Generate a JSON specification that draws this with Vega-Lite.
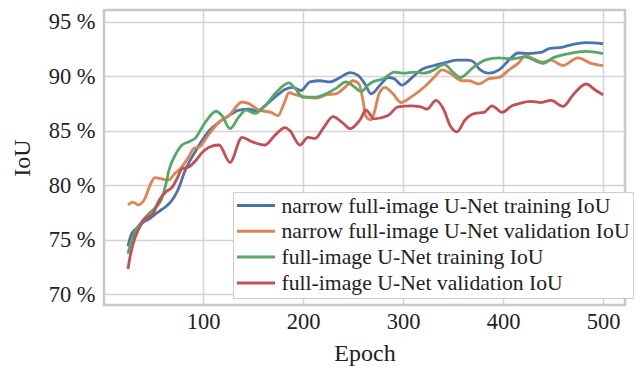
{
  "$schema": "https://vega.github.io/schema/vega-lite/v6.json",
  "width": 521,
  "height": 295,
  "autosize": {"type": "none"},
  "padding": {"left": 104, "top": 10, "right": 9, "bottom": 62},
  "background": "white",
  "config": {
    "font": "Liberation Serif, Times New Roman, serif",
    "view": {"stroke": "#c8c8c8", "strokeWidth": 2.5},
    "axis": {
      "labelFont": "Liberation Serif, Times New Roman, serif",
      "titleFont": "Liberation Serif, Times New Roman, serif",
      "labelFontSize": 22.5,
      "titleFontSize": 24,
      "titleFontWeight": "normal",
      "labelColor": "#222222",
      "titleColor": "#222222",
      "gridColor": "#d4d4d4",
      "gridWidth": 1.5,
      "domain": false,
      "ticks": false
    },
    "legend": {
      "labelFont": "Liberation Serif, Times New Roman, serif",
      "labelFontSize": 21.7,
      "labelColor": "#222222",
      "labelLimit": 0
    }
  },
  "data": {
    "values": [
      {"s": "narrow full-image U-Net training IoU", "e": 25, "v": 74.4},
      {"s": "narrow full-image U-Net training IoU", "e": 28, "v": 75.4},
      {"s": "narrow full-image U-Net training IoU", "e": 33, "v": 76.0},
      {"s": "narrow full-image U-Net training IoU", "e": 40, "v": 76.6},
      {"s": "narrow full-image U-Net training IoU", "e": 46, "v": 76.9},
      {"s": "narrow full-image U-Net training IoU", "e": 53, "v": 77.4},
      {"s": "narrow full-image U-Net training IoU", "e": 60, "v": 77.85},
      {"s": "narrow full-image U-Net training IoU", "e": 66, "v": 78.3},
      {"s": "narrow full-image U-Net training IoU", "e": 71, "v": 78.9},
      {"s": "narrow full-image U-Net training IoU", "e": 76, "v": 79.8},
      {"s": "narrow full-image U-Net training IoU", "e": 81, "v": 81.1},
      {"s": "narrow full-image U-Net training IoU", "e": 86, "v": 82.1},
      {"s": "narrow full-image U-Net training IoU", "e": 93, "v": 83.2},
      {"s": "narrow full-image U-Net training IoU", "e": 99, "v": 84.1},
      {"s": "narrow full-image U-Net training IoU", "e": 106, "v": 85.0},
      {"s": "narrow full-image U-Net training IoU", "e": 116, "v": 85.8},
      {"s": "narrow full-image U-Net training IoU", "e": 126, "v": 86.4},
      {"s": "narrow full-image U-Net training IoU", "e": 136, "v": 86.9},
      {"s": "narrow full-image U-Net training IoU", "e": 146, "v": 87.0},
      {"s": "narrow full-image U-Net training IoU", "e": 154, "v": 86.8},
      {"s": "narrow full-image U-Net training IoU", "e": 162, "v": 87.3},
      {"s": "narrow full-image U-Net training IoU", "e": 172, "v": 88.1},
      {"s": "narrow full-image U-Net training IoU", "e": 182, "v": 88.8},
      {"s": "narrow full-image U-Net training IoU", "e": 190, "v": 89.0},
      {"s": "narrow full-image U-Net training IoU", "e": 198, "v": 88.7},
      {"s": "narrow full-image U-Net training IoU", "e": 207, "v": 89.5},
      {"s": "narrow full-image U-Net training IoU", "e": 217, "v": 89.6},
      {"s": "narrow full-image U-Net training IoU", "e": 227, "v": 89.5},
      {"s": "narrow full-image U-Net training IoU", "e": 237, "v": 89.9},
      {"s": "narrow full-image U-Net training IoU", "e": 247, "v": 90.35},
      {"s": "narrow full-image U-Net training IoU", "e": 255, "v": 90.1},
      {"s": "narrow full-image U-Net training IoU", "e": 262, "v": 89.3},
      {"s": "narrow full-image U-Net training IoU", "e": 268, "v": 88.4},
      {"s": "narrow full-image U-Net training IoU", "e": 278, "v": 89.3},
      {"s": "narrow full-image U-Net training IoU", "e": 285, "v": 89.9},
      {"s": "narrow full-image U-Net training IoU", "e": 291, "v": 89.8},
      {"s": "narrow full-image U-Net training IoU", "e": 299, "v": 89.2},
      {"s": "narrow full-image U-Net training IoU", "e": 308, "v": 89.8},
      {"s": "narrow full-image U-Net training IoU", "e": 318, "v": 90.6},
      {"s": "narrow full-image U-Net training IoU", "e": 331, "v": 91.0},
      {"s": "narrow full-image U-Net training IoU", "e": 344, "v": 91.3},
      {"s": "narrow full-image U-Net training IoU", "e": 354, "v": 91.5},
      {"s": "narrow full-image U-Net training IoU", "e": 366, "v": 91.5},
      {"s": "narrow full-image U-Net training IoU", "e": 371, "v": 91.3},
      {"s": "narrow full-image U-Net training IoU", "e": 376, "v": 90.7},
      {"s": "narrow full-image U-Net training IoU", "e": 386, "v": 90.3},
      {"s": "narrow full-image U-Net training IoU", "e": 396, "v": 90.6},
      {"s": "narrow full-image U-Net training IoU", "e": 407, "v": 91.6},
      {"s": "narrow full-image U-Net training IoU", "e": 415, "v": 92.15},
      {"s": "narrow full-image U-Net training IoU", "e": 425, "v": 92.1},
      {"s": "narrow full-image U-Net training IoU", "e": 438, "v": 92.2},
      {"s": "narrow full-image U-Net training IoU", "e": 446, "v": 92.55},
      {"s": "narrow full-image U-Net training IoU", "e": 460, "v": 92.7},
      {"s": "narrow full-image U-Net training IoU", "e": 466, "v": 92.85},
      {"s": "narrow full-image U-Net training IoU", "e": 483, "v": 93.1},
      {"s": "narrow full-image U-Net training IoU", "e": 500, "v": 93.0},

      {"s": "narrow full-image U-Net validation IoU", "e": 25, "v": 78.2},
      {"s": "narrow full-image U-Net validation IoU", "e": 30, "v": 78.45},
      {"s": "narrow full-image U-Net validation IoU", "e": 35, "v": 78.2},
      {"s": "narrow full-image U-Net validation IoU", "e": 42, "v": 78.8},
      {"s": "narrow full-image U-Net validation IoU", "e": 47, "v": 80.0},
      {"s": "narrow full-image U-Net validation IoU", "e": 52, "v": 80.7},
      {"s": "narrow full-image U-Net validation IoU", "e": 58, "v": 80.6},
      {"s": "narrow full-image U-Net validation IoU", "e": 65, "v": 80.45},
      {"s": "narrow full-image U-Net validation IoU", "e": 72, "v": 81.1},
      {"s": "narrow full-image U-Net validation IoU", "e": 78, "v": 81.6},
      {"s": "narrow full-image U-Net validation IoU", "e": 85, "v": 82.5},
      {"s": "narrow full-image U-Net validation IoU", "e": 91, "v": 83.4},
      {"s": "narrow full-image U-Net validation IoU", "e": 96, "v": 83.5},
      {"s": "narrow full-image U-Net validation IoU", "e": 106, "v": 84.7},
      {"s": "narrow full-image U-Net validation IoU", "e": 116, "v": 85.8},
      {"s": "narrow full-image U-Net validation IoU", "e": 126, "v": 86.4},
      {"s": "narrow full-image U-Net validation IoU", "e": 139, "v": 87.65},
      {"s": "narrow full-image U-Net validation IoU", "e": 146, "v": 87.5},
      {"s": "narrow full-image U-Net validation IoU", "e": 156, "v": 86.9},
      {"s": "narrow full-image U-Net validation IoU", "e": 168, "v": 86.7},
      {"s": "narrow full-image U-Net validation IoU", "e": 175, "v": 86.4},
      {"s": "narrow full-image U-Net validation IoU", "e": 181, "v": 87.5},
      {"s": "narrow full-image U-Net validation IoU", "e": 186, "v": 88.5},
      {"s": "narrow full-image U-Net validation IoU", "e": 193, "v": 88.3},
      {"s": "narrow full-image U-Net validation IoU", "e": 203, "v": 88.1},
      {"s": "narrow full-image U-Net validation IoU", "e": 213, "v": 88.0},
      {"s": "narrow full-image U-Net validation IoU", "e": 223, "v": 88.3},
      {"s": "narrow full-image U-Net validation IoU", "e": 233, "v": 88.4},
      {"s": "narrow full-image U-Net validation IoU", "e": 242, "v": 89.0},
      {"s": "narrow full-image U-Net validation IoU", "e": 250, "v": 89.6},
      {"s": "narrow full-image U-Net validation IoU", "e": 256, "v": 89.3},
      {"s": "narrow full-image U-Net validation IoU", "e": 260, "v": 87.8},
      {"s": "narrow full-image U-Net validation IoU", "e": 263, "v": 86.3},
      {"s": "narrow full-image U-Net validation IoU", "e": 268, "v": 86.0},
      {"s": "narrow full-image U-Net validation IoU", "e": 271, "v": 86.6},
      {"s": "narrow full-image U-Net validation IoU", "e": 276, "v": 88.4},
      {"s": "narrow full-image U-Net validation IoU", "e": 282, "v": 89.0},
      {"s": "narrow full-image U-Net validation IoU", "e": 290, "v": 88.4},
      {"s": "narrow full-image U-Net validation IoU", "e": 298, "v": 87.6},
      {"s": "narrow full-image U-Net validation IoU", "e": 308, "v": 88.1},
      {"s": "narrow full-image U-Net validation IoU", "e": 321, "v": 89.0},
      {"s": "narrow full-image U-Net validation IoU", "e": 331, "v": 89.9},
      {"s": "narrow full-image U-Net validation IoU", "e": 339, "v": 90.6},
      {"s": "narrow full-image U-Net validation IoU", "e": 347, "v": 90.3},
      {"s": "narrow full-image U-Net validation IoU", "e": 354, "v": 89.8},
      {"s": "narrow full-image U-Net validation IoU", "e": 359, "v": 89.6},
      {"s": "narrow full-image U-Net validation IoU", "e": 366, "v": 89.6},
      {"s": "narrow full-image U-Net validation IoU", "e": 376, "v": 89.3},
      {"s": "narrow full-image U-Net validation IoU", "e": 386, "v": 89.8},
      {"s": "narrow full-image U-Net validation IoU", "e": 396, "v": 89.9},
      {"s": "narrow full-image U-Net validation IoU", "e": 406, "v": 90.6},
      {"s": "narrow full-image U-Net validation IoU", "e": 415, "v": 91.2},
      {"s": "narrow full-image U-Net validation IoU", "e": 423, "v": 91.9},
      {"s": "narrow full-image U-Net validation IoU", "e": 431, "v": 91.6},
      {"s": "narrow full-image U-Net validation IoU", "e": 440, "v": 91.3},
      {"s": "narrow full-image U-Net validation IoU", "e": 448, "v": 91.5},
      {"s": "narrow full-image U-Net validation IoU", "e": 460, "v": 91.0},
      {"s": "narrow full-image U-Net validation IoU", "e": 475, "v": 91.7},
      {"s": "narrow full-image U-Net validation IoU", "e": 488, "v": 91.2},
      {"s": "narrow full-image U-Net validation IoU", "e": 500, "v": 91.0},

      {"s": "full-image U-Net training IoU", "e": 25, "v": 73.7},
      {"s": "full-image U-Net training IoU", "e": 28, "v": 74.8},
      {"s": "full-image U-Net training IoU", "e": 33, "v": 75.85},
      {"s": "full-image U-Net training IoU", "e": 40, "v": 76.8},
      {"s": "full-image U-Net training IoU", "e": 46, "v": 77.4},
      {"s": "full-image U-Net training IoU", "e": 53, "v": 78.0},
      {"s": "full-image U-Net training IoU", "e": 58, "v": 78.6},
      {"s": "full-image U-Net training IoU", "e": 63, "v": 80.15},
      {"s": "full-image U-Net training IoU", "e": 66, "v": 81.4},
      {"s": "full-image U-Net training IoU", "e": 73, "v": 82.9},
      {"s": "full-image U-Net training IoU", "e": 79, "v": 83.7},
      {"s": "full-image U-Net training IoU", "e": 86, "v": 84.0},
      {"s": "full-image U-Net training IoU", "e": 93, "v": 84.4},
      {"s": "full-image U-Net training IoU", "e": 99, "v": 85.3},
      {"s": "full-image U-Net training IoU", "e": 104, "v": 86.0},
      {"s": "full-image U-Net training IoU", "e": 113, "v": 86.8},
      {"s": "full-image U-Net training IoU", "e": 119, "v": 86.4},
      {"s": "full-image U-Net training IoU", "e": 127, "v": 85.2},
      {"s": "full-image U-Net training IoU", "e": 136, "v": 86.3},
      {"s": "full-image U-Net training IoU", "e": 143, "v": 86.9},
      {"s": "full-image U-Net training IoU", "e": 152, "v": 86.6},
      {"s": "full-image U-Net training IoU", "e": 162, "v": 87.3},
      {"s": "full-image U-Net training IoU", "e": 172, "v": 88.4},
      {"s": "full-image U-Net training IoU", "e": 181, "v": 89.2},
      {"s": "full-image U-Net training IoU", "e": 186, "v": 89.4},
      {"s": "full-image U-Net training IoU", "e": 192, "v": 88.9},
      {"s": "full-image U-Net training IoU", "e": 200, "v": 88.1},
      {"s": "full-image U-Net training IoU", "e": 213, "v": 88.1},
      {"s": "full-image U-Net training IoU", "e": 223, "v": 88.4},
      {"s": "full-image U-Net training IoU", "e": 233, "v": 88.9},
      {"s": "full-image U-Net training IoU", "e": 243, "v": 89.5},
      {"s": "full-image U-Net training IoU", "e": 252, "v": 89.0},
      {"s": "full-image U-Net training IoU", "e": 258, "v": 88.6},
      {"s": "full-image U-Net training IoU", "e": 265, "v": 89.2},
      {"s": "full-image U-Net training IoU", "e": 270, "v": 89.5},
      {"s": "full-image U-Net training IoU", "e": 281, "v": 89.8},
      {"s": "full-image U-Net training IoU", "e": 291, "v": 90.4},
      {"s": "full-image U-Net training IoU", "e": 301, "v": 90.3},
      {"s": "full-image U-Net training IoU", "e": 311, "v": 90.4},
      {"s": "full-image U-Net training IoU", "e": 321, "v": 90.3},
      {"s": "full-image U-Net training IoU", "e": 331, "v": 90.6},
      {"s": "full-image U-Net training IoU", "e": 341, "v": 91.1},
      {"s": "full-image U-Net training IoU", "e": 350, "v": 90.4},
      {"s": "full-image U-Net training IoU", "e": 357, "v": 89.9},
      {"s": "full-image U-Net training IoU", "e": 370, "v": 90.8},
      {"s": "full-image U-Net training IoU", "e": 382, "v": 91.5},
      {"s": "full-image U-Net training IoU", "e": 396, "v": 91.7},
      {"s": "full-image U-Net training IoU", "e": 409, "v": 91.6},
      {"s": "full-image U-Net training IoU", "e": 422, "v": 91.8},
      {"s": "full-image U-Net training IoU", "e": 431, "v": 91.5},
      {"s": "full-image U-Net training IoU", "e": 440, "v": 91.2},
      {"s": "full-image U-Net training IoU", "e": 450, "v": 91.7},
      {"s": "full-image U-Net training IoU", "e": 466, "v": 92.1},
      {"s": "full-image U-Net training IoU", "e": 483, "v": 92.3},
      {"s": "full-image U-Net training IoU", "e": 500, "v": 92.1},

      {"s": "full-image U-Net validation IoU", "e": 25, "v": 72.3},
      {"s": "full-image U-Net validation IoU", "e": 27, "v": 73.4},
      {"s": "full-image U-Net validation IoU", "e": 30, "v": 74.6},
      {"s": "full-image U-Net validation IoU", "e": 35, "v": 75.85},
      {"s": "full-image U-Net validation IoU", "e": 41, "v": 76.8},
      {"s": "full-image U-Net validation IoU", "e": 50, "v": 77.4},
      {"s": "full-image U-Net validation IoU", "e": 56, "v": 78.6},
      {"s": "full-image U-Net validation IoU", "e": 63, "v": 79.4},
      {"s": "full-image U-Net validation IoU", "e": 69, "v": 79.8},
      {"s": "full-image U-Net validation IoU", "e": 74, "v": 80.6},
      {"s": "full-image U-Net validation IoU", "e": 79, "v": 81.5},
      {"s": "full-image U-Net validation IoU", "e": 86, "v": 81.7},
      {"s": "full-image U-Net validation IoU", "e": 93, "v": 82.3},
      {"s": "full-image U-Net validation IoU", "e": 99, "v": 83.0},
      {"s": "full-image U-Net validation IoU", "e": 106, "v": 83.5},
      {"s": "full-image U-Net validation IoU", "e": 116, "v": 83.7},
      {"s": "full-image U-Net validation IoU", "e": 127, "v": 82.1},
      {"s": "full-image U-Net validation IoU", "e": 139, "v": 84.4},
      {"s": "full-image U-Net validation IoU", "e": 149, "v": 84.0},
      {"s": "full-image U-Net validation IoU", "e": 162, "v": 83.7},
      {"s": "full-image U-Net validation IoU", "e": 172, "v": 84.6},
      {"s": "full-image U-Net validation IoU", "e": 182, "v": 85.3},
      {"s": "full-image U-Net validation IoU", "e": 187, "v": 85.0},
      {"s": "full-image U-Net validation IoU", "e": 197, "v": 83.7},
      {"s": "full-image U-Net validation IoU", "e": 205, "v": 84.4},
      {"s": "full-image U-Net validation IoU", "e": 212, "v": 84.3},
      {"s": "full-image U-Net validation IoU", "e": 220, "v": 85.2},
      {"s": "full-image U-Net validation IoU", "e": 230, "v": 86.3},
      {"s": "full-image U-Net validation IoU", "e": 240, "v": 85.7},
      {"s": "full-image U-Net validation IoU", "e": 247, "v": 85.2},
      {"s": "full-image U-Net validation IoU", "e": 257, "v": 86.0},
      {"s": "full-image U-Net validation IoU", "e": 263, "v": 86.9},
      {"s": "full-image U-Net validation IoU", "e": 271, "v": 86.1},
      {"s": "full-image U-Net validation IoU", "e": 285, "v": 86.4},
      {"s": "full-image U-Net validation IoU", "e": 295, "v": 87.2},
      {"s": "full-image U-Net validation IoU", "e": 308, "v": 87.3},
      {"s": "full-image U-Net validation IoU", "e": 318, "v": 87.2},
      {"s": "full-image U-Net validation IoU", "e": 324, "v": 87.0},
      {"s": "full-image U-Net validation IoU", "e": 333, "v": 87.8},
      {"s": "full-image U-Net validation IoU", "e": 341, "v": 86.9},
      {"s": "full-image U-Net validation IoU", "e": 347, "v": 85.5},
      {"s": "full-image U-Net validation IoU", "e": 354, "v": 84.9},
      {"s": "full-image U-Net validation IoU", "e": 362, "v": 86.0},
      {"s": "full-image U-Net validation IoU", "e": 372, "v": 86.6},
      {"s": "full-image U-Net validation IoU", "e": 381, "v": 86.7},
      {"s": "full-image U-Net validation IoU", "e": 389, "v": 87.3},
      {"s": "full-image U-Net validation IoU", "e": 399, "v": 86.7},
      {"s": "full-image U-Net validation IoU", "e": 409, "v": 87.3},
      {"s": "full-image U-Net validation IoU", "e": 418, "v": 87.55},
      {"s": "full-image U-Net validation IoU", "e": 428, "v": 87.7},
      {"s": "full-image U-Net validation IoU", "e": 438, "v": 87.6},
      {"s": "full-image U-Net validation IoU", "e": 448, "v": 87.8},
      {"s": "full-image U-Net validation IoU", "e": 460, "v": 87.25},
      {"s": "full-image U-Net validation IoU", "e": 470, "v": 88.3},
      {"s": "full-image U-Net validation IoU", "e": 483, "v": 89.3},
      {"s": "full-image U-Net validation IoU", "e": 493, "v": 88.7},
      {"s": "full-image U-Net validation IoU", "e": 500, "v": 88.3}
    ]
  },
  "mark": {"type": "line", "strokeWidth": 2.8, "interpolate": "monotone"},
  "encoding": {
    "x": {
      "field": "e",
      "type": "quantitative",
      "title": "Epoch",
      "scale": {"domain": [1, 522], "nice": false, "zero": false},
      "axis": {"values": [100, 200, 300, 400, 500], "labelPadding": 5, "titlePadding": 9}
    },
    "y": {
      "field": "v",
      "type": "quantitative",
      "title": "IoU",
      "scale": {"domain": [69, 96.1], "nice": false, "zero": false},
      "axis": {"values": [70, 75, 80, 85, 90, 95], "labelExpr": "datum.value + ' %'", "labelPadding": 9, "titlePadding": 14}
    },
    "color": {
      "field": "s",
      "type": "nominal",
      "scale": {
        "domain": ["narrow full-image U-Net training IoU", "narrow full-image U-Net validation IoU", "full-image U-Net training IoU", "full-image U-Net validation IoU"],
        "range": ["#4c72b0", "#dd8452", "#55a868", "#c44e52"]
      },
      "legend": {
        "title": null,
        "orient": "none",
        "legendX": 129,
        "legendY": 182,
        "fillColor": "white",
        "strokeColor": "#cccccc",
        "padding": 2.5,
        "rowPadding": 2.8,
        "symbolType": "M-1,0H3",
        "symbolSize": 361,
        "symbolStrokeWidth": 3,
        "labelOffset": 24
      }
    }
  }
}
